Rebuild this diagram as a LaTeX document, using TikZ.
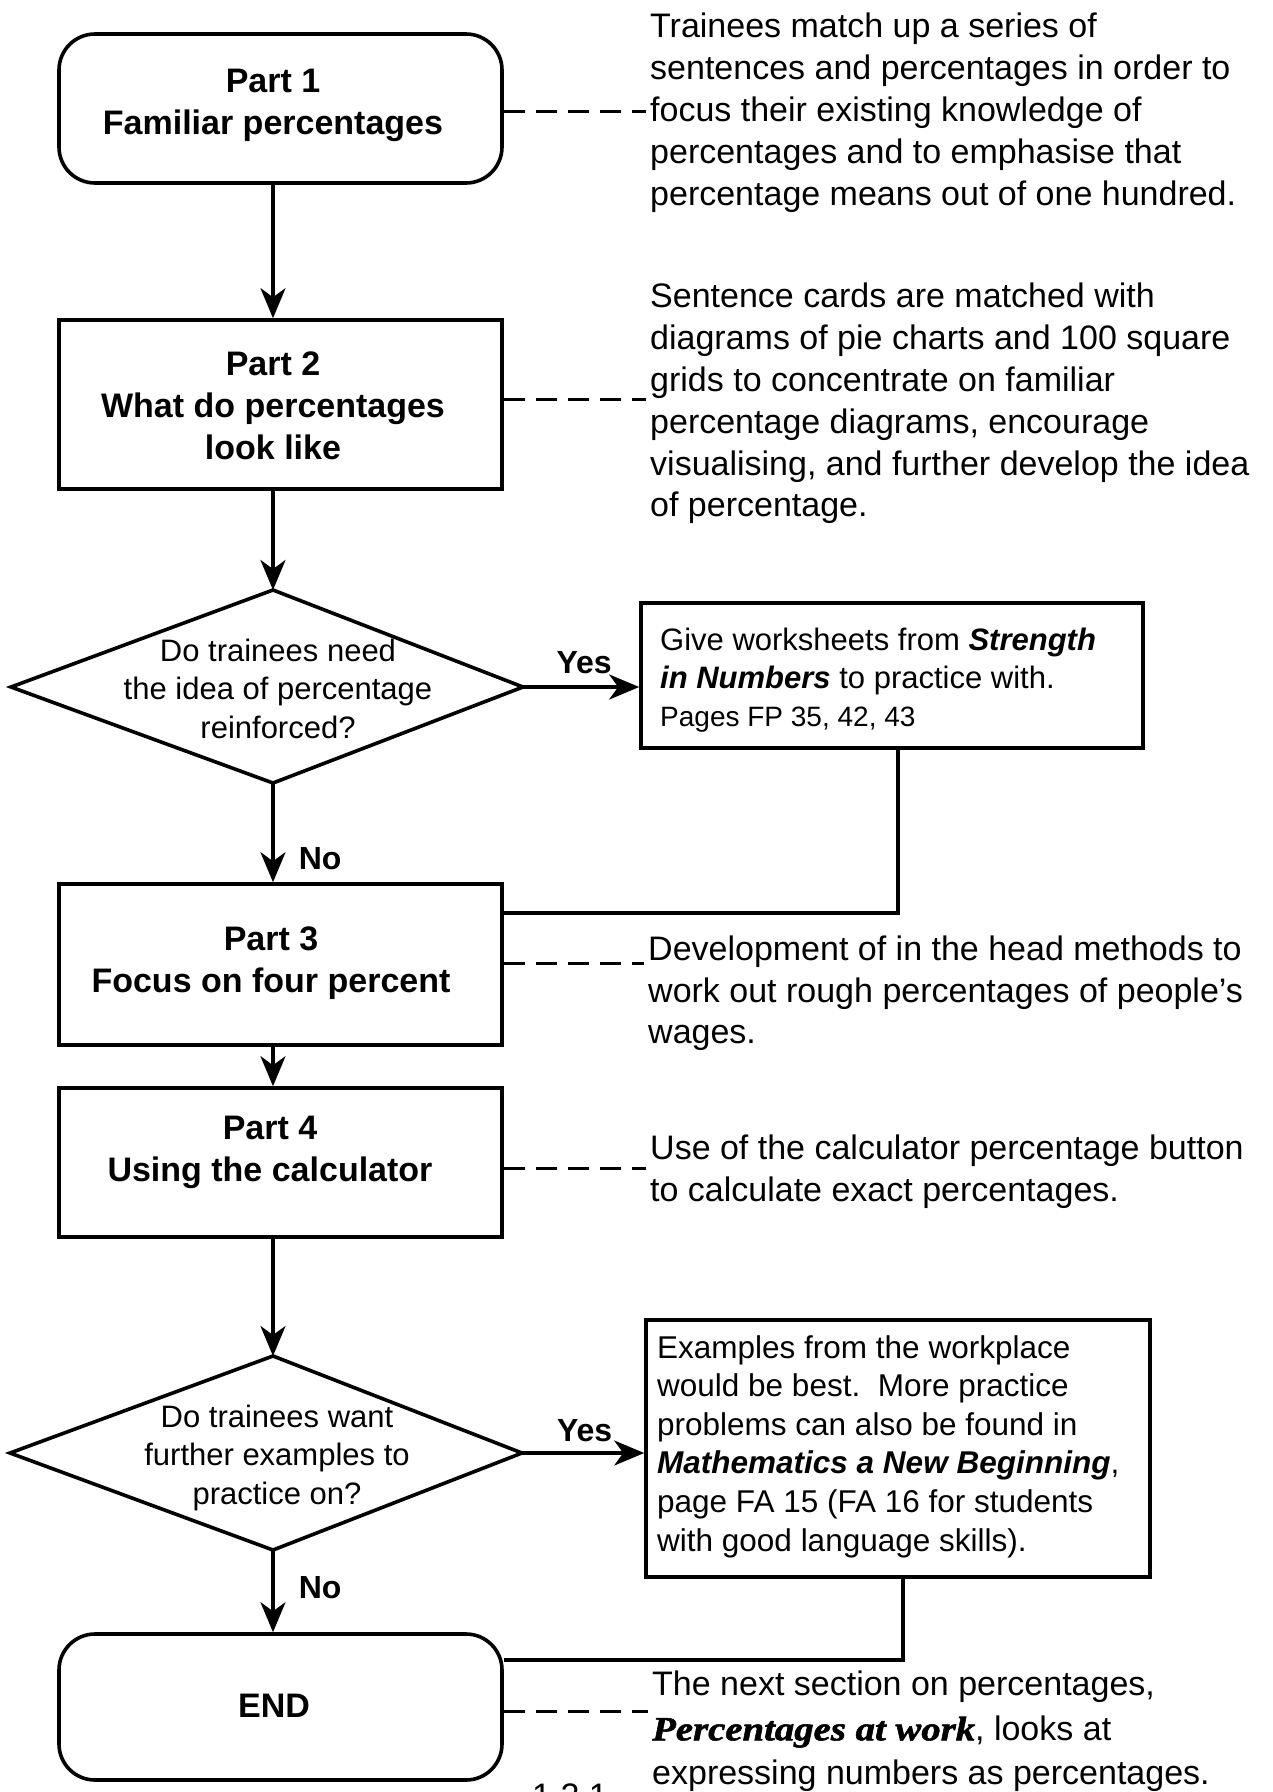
\documentclass[tikz,border=0pt]{standalone}
\usepackage{fontspec}
\setmainfont{Liberation Sans}
\newfontfamily\decofont{Liberation Serif}[BoldItalicFeatures={FakeStretch=1.14,FakeBold=1.6}]
\usetikzlibrary{arrows.meta}
\tikzset{
  partbox/.style={draw, line width=3.6pt, minimum width=443pt, inner sep=0pt},
  roundbox/.style={partbox, rounded corners=36pt},
  notebox/.style={draw, line width=3.6pt, inner sep=0pt},
  parttext/.style={font={\bfseries\fontsize{34}{42}\selectfont}, align=center, inner sep=0pt},
  sidetext/.style={font={\fontsize{34}{41.8}\selectfont}, align=left, anchor=north west, inner sep=0pt},
  qtext/.style={font={\fontsize{31}{38.5}\selectfont}, align=center, inner sep=0pt},
  notetext/.style={font={\fontsize{31}{37.7}\selectfont}, align=left, anchor=north west, inner sep=0pt},
  conn/.style={line width=3.6pt},
  arr/.style={conn, -{Stealth[length=30pt, width=25pt, inset=9pt]}},
  dashconn/.style={line width=3pt, dash pattern=on 21pt off 11pt},
  answer/.style={font={\bfseries\fontsize{32}{38}\selectfont}, inner sep=0pt},
  diashape/.style={draw, line width=3.6pt}
}
\begin{document}
\begin{tikzpicture}[x=1pt,y=-1pt]
\useasboundingbox (0,0) rectangle (1273,1792);

% main column boxes
\node[roundbox, minimum height=149pt] (p1) at (280.5,108.5) {};
\node[parttext] (p1t) at (273,105.5) {Part 1\\Familiar percentages};

\node[partbox, minimum height=169pt] (p2) at (280.5,404.5) {};
\node[parttext] (p2t) at (273,406) {Part 2\\What do percentages\\look like};

\node[partbox, minimum height=161pt] (p3) at (280.5,964.5) {};
\node[parttext] (p3t) at (271,963) {Part 3\\Focus on four percent};

\node[partbox, minimum height=149pt] (p4) at (280.5,1162.5) {};
\node[parttext] (p4t) at (270,1152.5) {Part 4\\Using the calculator};

\node[roundbox, minimum height=146pt] (pend) at (280.5,1707) {};
\node[parttext] (pendt) at (274,1706) {END};

% decision diamonds
\coordinate (d1n) at (273,590);
\coordinate (d1e) at (523,687);
\coordinate (d1s) at (273,783);
\coordinate (d1w) at (11,687);
\draw[diashape] (d1n) -- (d1e) -- (d1s) -- (d1w) -- cycle;
\node[qtext] (q1) at (278,688.5) {Do trainees need\\the idea of percentage\\reinforced?};

\coordinate (d2n) at (273,1356);
\coordinate (d2e) at (522,1453);
\coordinate (d2s) at (273,1550);
\coordinate (d2w) at (10,1453);
\draw[diashape] (d2n) -- (d2e) -- (d2s) -- (d2w) -- cycle;
\node[qtext] (q2) at (277,1457.5) {Do trainees want\\further examples to\\practice on?};

% side boxes
\node[notebox, minimum width=502pt, minimum height=145pt] (ws) at (892,675.5) {};
\node[notetext] (wst) at (660,628) {Give worksheets from \textbf{\textit{Strength}}\\\textbf{\textit{in Numbers}} to practice with.\\{\fontsize{28}{37.7}\selectfont Pages FP 35, 42, 43}};

\node[notebox, minimum width=504pt, minimum height=257pt] (ex) at (898,1448.5) {};
\node[notetext, font={\fontsize{31.5}{38.6}\selectfont}] (ext) at (657,1335) {Examples from the workplace\\would be best.\ \ More practice\\problems can also be found in\\\textbf{\textit{Mathematics a New Beginning}},\\page FA 15 (FA 16 for students\\with good language skills).};

% side notes
\node[sidetext] (t1) at (650,13) {Trainees match up a series of\\sentences and percentages in order to\\focus their existing knowledge of\\percentages and to emphasise that\\percentage means out of one hundred.};
\node[sidetext] (t2) at (650,283) {Sentence cards are matched with\\diagrams of pie charts and 100 square\\grids to concentrate on familiar\\percentage diagrams, encourage\\visualising, and further develop the idea\\of percentage.};
\node[sidetext] (t3) at (648,935.5) {Development of in the head methods to\\work out rough percentages of people's\\wages.};
\node[sidetext] (t4) at (650,1135) {Use of the calculator percentage button\\to calculate exact percentages.};
\node[sidetext, font={\fontsize{34}{44.5}\selectfont}] (t5) at (652,1671) {The next section on percentages,\\{\decofont\bfseries\itshape Percentages at work}, looks at\\expressing numbers as percentages.};

\node[anchor=north west, inner sep=0pt, font={\fontsize{34}{34}\selectfont}] (pg) at (532,1784) {1 2 1};

% main flow arrows
\draw[arr] (p1.south -| d1n) -- (p2.north -| d1n);
\draw[arr] (p2.south -| d1n) -- (d1n);
\draw[arr] (d1e) -- node[answer, anchor=base, yshift=14pt, xshift=3pt] {Yes} (d1e -| ws.west);
\draw[arr] (d1s) -- (d1s |- p3.north) node[answer, anchor=base west, xshift=24pt, yshift=13pt] {No};
\draw[arr] (p3.south -| d1n) -- (p4.north -| d1n);
\draw[arr] (p4.south -| d2n) -- (d2n);
\draw[arr] (d2e) -- node[answer, anchor=base, yshift=12pt, xshift=1.5pt] {Yes} (d2e -| ex.west);
\draw[arr] (d2s) -- (d2s |- pend.north) node[answer, anchor=base west, xshift=24pt, yshift=34pt] {No};

% return lines
\coordinate (c1) at (898,913);
\draw[conn] (ws.south -| c1) -- (c1) -- (c1 -| p3.east);
\coordinate (c2) at (903,1660);
\draw[conn] (ex.south -| c2) -- (c2) -- (c2 -| pend.east);

% dashed leaders
\coordinate (e1) at (646,111);
\coordinate (e2) at (646,399);
\coordinate (e3) at (644,963);
\coordinate (e4) at (646,1168);
\coordinate (e5) at (648,1711);
\draw[dashconn] (e1 -| p1.east) -- (e1);
\draw[dashconn] (e2 -| p2.east) -- (e2);
\draw[dashconn] (e3 -| p3.east) -- (e3);
\draw[dashconn] (e4 -| p4.east) -- (e4);
\draw[dashconn] (e5 -| pend.east) -- (e5);
\end{tikzpicture}
\end{document}
